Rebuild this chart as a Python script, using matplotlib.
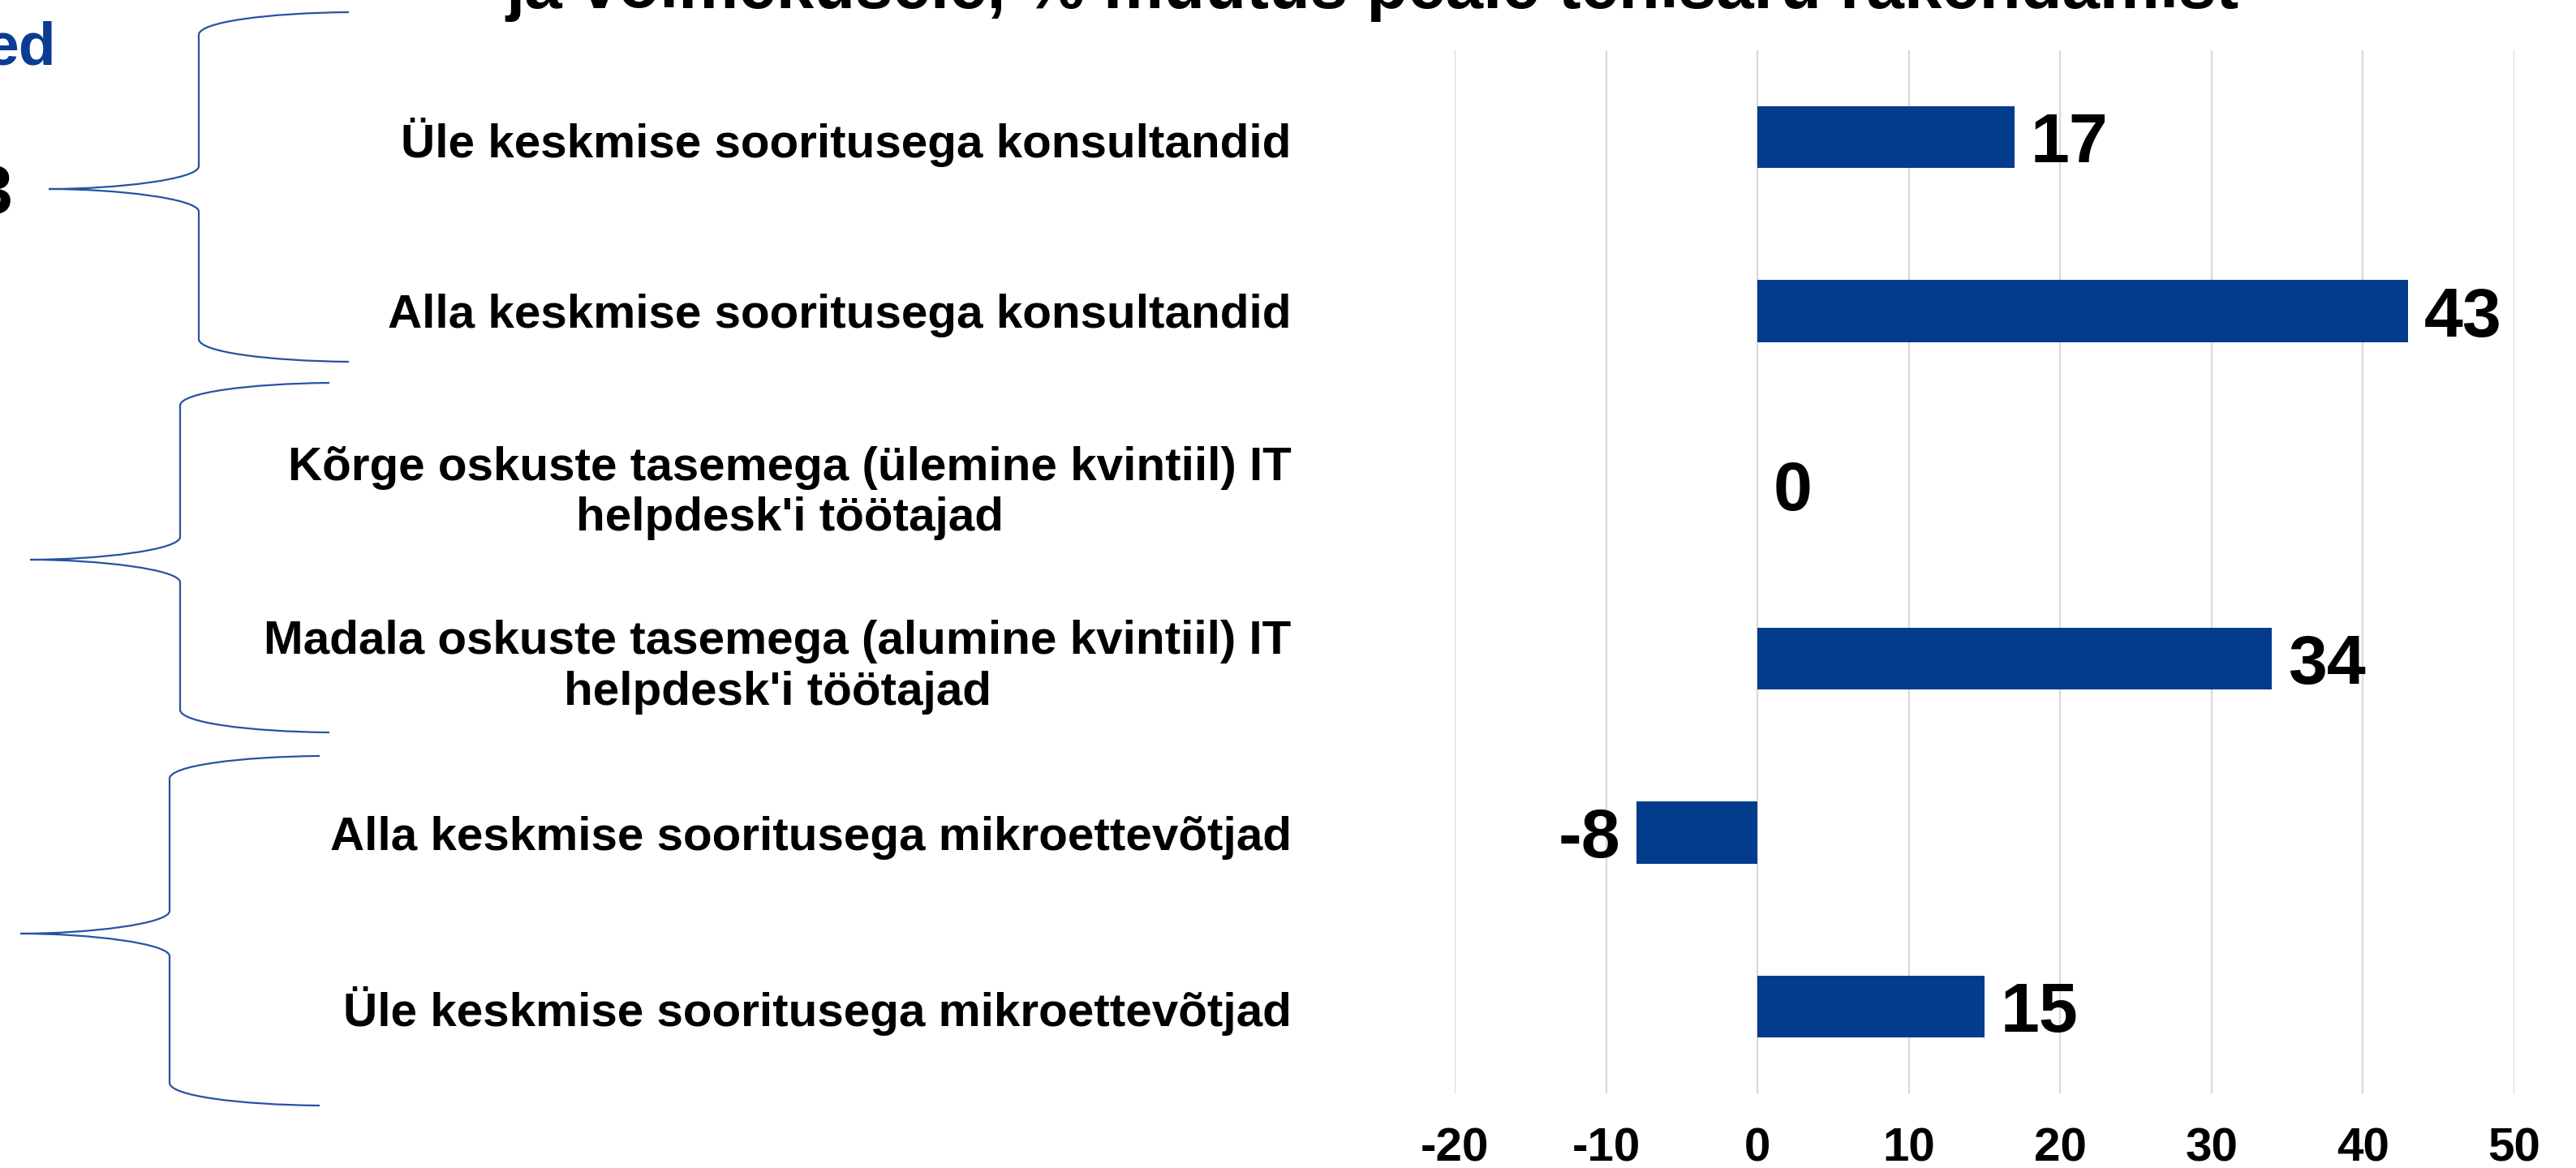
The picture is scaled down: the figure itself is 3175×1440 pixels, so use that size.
import matplotlib
matplotlib.use("Agg")
import matplotlib.pyplot as plt
from matplotlib.path import Path
from matplotlib.patches import PathPatch

plt.rcParams['font.family'] = ['Liberation Sans', 'DejaVu Sans']
plt.rcParams['font.weight'] = 'bold'

# data
categories = [
    "Üle keskmise sooritusega konsultandid",
    "Alla keskmise sooritusega konsultandid",
    "Kõrge oskuste tasemega (ülemine kvintiil) IT\nhelpdesk'i töötajad",
    "Madala oskuste tasemega (alumine kvintiil) IT\nhelpdesk'i töötajad",
    "Alla keskmise sooritusega mikroettevõtjad",
    "Üle keskmise sooritusega mikroettevõtjad",
]
values = [17, 43, 0, 34, -8, 15]
x_ticks = [-20, -10, 0, 10, 20, 30, 40, 50]
title = "ja võimekusele, % muutus peale tehisaru rakendamist"

BLUE = '#033c8c'
BRACE = '#2553a3'
W, H = 3175, 1440


def fx(px):
    return px / W


def fy(py):
    return 1 - py / H


fig = plt.figure(figsize=(W / 100, H / 100), dpi=100)
ax = fig.add_axes([fx(1793), fy(1348), fx(3099 - 1793), (1348 - 62) / H])

ypos = list(range(len(categories)))
ax.barh(ypos, values, height=0.355, color=BLUE, zorder=3)

for y, v in zip(ypos, values):
    if v < 0:
        ax.annotate(f"{v}", (v, y), xytext=(-14, 0), textcoords='offset points',
                    ha='right', va='center_baseline', fontsize=62, fontweight='bold')
    else:
        ax.annotate(f"{v}", (v, y), xytext=(14, 0), textcoords='offset points',
                    ha='left', va='center_baseline', fontsize=62, fontweight='bold')

ax.set_xlim(-20, 50)
ax.set_ylim(len(categories) - 0.5, -0.5)
ax.set_xticks(x_ticks)
ax.set_xticklabels([str(t) for t in x_ticks], fontsize=42, fontweight='bold')
ax.set_yticks(ypos)
ax.set_yticklabels(categories, fontsize=42, fontweight='bold')
for lbl in ax.get_yticklabels():
    lbl.set_multialignment('center')
ax.tick_params(axis='both', length=0)
ax.tick_params(axis='y', pad=145)
ax.tick_params(axis='x', pad=30)
ax.xaxis.grid(True, color='#d9d9d9', linewidth=1.6)
ax.set_axisbelow(True)
for s in ax.spines.values():
    s.set_visible(False)

# title, cut off at the top
fig.text(fx(1691), fy(10), title, ha='center', va='baseline',
         fontsize=60, fontweight='bold')

# cut-off texts at left edge
fig.text(fx(69), fy(80), "ed", ha='right', va='baseline', fontsize=54,
         fontweight='bold', color='#0a3d91')
fig.text(fx(15), fy(241), "3", ha='right', va='center', fontsize=62,
         fontweight='bold')


def brace(x_tip, x_mid, x_end, y_top, y_tip, y_bot, r=28):
    verts = [
        (x_end, y_top),
        (x_mid + 85, y_top + 1), (x_mid, y_top + 12), (x_mid, y_top + r),
        (x_mid, y_tip - r),
        (x_mid, y_tip - 12), (x_tip + 85, y_tip), (x_tip, y_tip),
        (x_tip + 85, y_tip), (x_mid, y_tip + 12), (x_mid, y_tip + r),
        (x_mid, y_bot - r),
        (x_mid, y_bot - 12), (x_mid + 85, y_bot - 1), (x_end, y_bot),
    ]
    codes = [Path.MOVETO,
             Path.CURVE4, Path.CURVE4, Path.CURVE4,
             Path.LINETO,
             Path.CURVE4, Path.CURVE4, Path.CURVE4,
             Path.CURVE4, Path.CURVE4, Path.CURVE4,
             Path.LINETO,
             Path.CURVE4, Path.CURVE4, Path.CURVE4]
    verts = [(fx(a), fy(b)) for a, b in verts]
    patch = PathPatch(Path(verts, codes), transform=fig.transFigure,
                      facecolor='none', edgecolor=BRACE, linewidth=1.6)
    fig.patches.append(patch)


brace(60, 245, 430, 15, 233, 446)
brace(37, 222, 406, 472, 690, 903)
brace(25, 209, 394, 932, 1151, 1363)

fig.savefig("out.png", dpi=100)
